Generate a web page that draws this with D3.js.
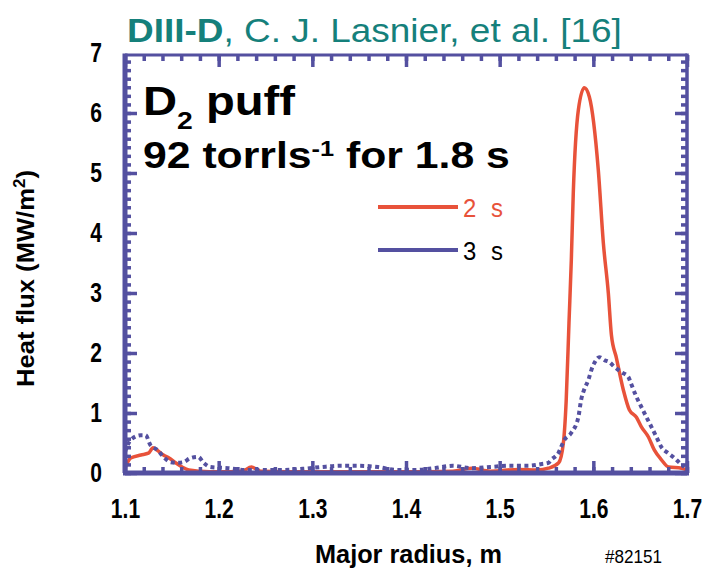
<!DOCTYPE html>
<html>
<head>
<meta charset="utf-8">
<script src="https://cdn.jsdelivr.net/npm/d3@7"></script>
<style>
  body { margin: 0; background: #fff; }
  svg { display: block; }
  text { font-family: 'Liberation Sans', Arial, sans-serif; }
</style>
</head>
<body>
<svg id="svg1" width="704" height="569"></svg>
<script>
// tick labels
var xTicks = [1.1, 1.2, 1.3, 1.4, 1.5, 1.6, 1.7];
var yTicks = [0, 1, 2, 3, 4, 5, 6, 7];

// legend
var seriesNames = ['2 s', '3 s'];

// heat flux at 2 s (MW/m^2) vs major radius (m)
var r2s = [1.100, 1.106, 1.117, 1.125, 1.130, 1.136, 1.141, 1.147, 1.154, 1.161, 1.168, 1.180, 1.200, 1.225, 1.235, 1.245,
    1.300, 1.350, 1.400, 1.450, 1.470, 1.490, 1.520, 1.540, 1.552, 1.563, 1.568, 1.571, 1.574, 1.5765, 1.5786, 1.584,
    1.5904, 1.5957, 1.6053, 1.6107, 1.616, 1.6193, 1.6246, 1.6321, 1.6385, 1.646, 1.6513, 1.6588, 1.6652, 1.6727,
    1.6802, 1.6941, 1.700];
var q2s = [0.08, 0.25, 0.30, 0.33, 0.42, 0.36, 0.30, 0.25, 0.17, 0.10, 0.05, 0.03, 0.02, 0.03, 0.10, 0.03,
    0.02, 0.02, 0.02, 0.03, 0.08, 0.03, 0.06, 0.05, 0.08, 0.17, 0.50, 1.20, 2.50, 3.55, 4.67, 6.05,
    6.42, 6.27, 5.05, 3.83, 3.00, 2.30, 1.92, 1.38, 1.05, 0.93, 0.77, 0.60, 0.38, 0.22,
    0.10, 0.08, 0.05];

// heat flux at 3 s
var r3s = [1.100, 1.106, 1.117, 1.122, 1.127, 1.135, 1.141, 1.149, 1.156, 1.162, 1.170, 1.178, 1.184, 1.191,
    1.210, 1.230, 1.250, 1.270, 1.290, 1.310, 1.330, 1.350, 1.370, 1.390, 1.410, 1.430, 1.450, 1.470, 1.490,
    1.510, 1.530, 1.545, 1.552, 1.555, 1.5626, 1.569, 1.5765, 1.584, 1.587, 1.590, 1.5947, 1.598, 1.601, 1.6064,
    1.612, 1.617, 1.6225, 1.630, 1.6374, 1.640, 1.646, 1.6513, 1.6567, 1.662, 1.6674, 1.6727, 1.680, 1.6866,
    1.692, 1.6973];
var q3s = [0.35, 0.55, 0.63, 0.63, 0.47, 0.38, 0.27, 0.18, 0.17, 0.18, 0.25, 0.27, 0.17, 0.10,
    0.08, 0.05, 0.05, 0.05, 0.07, 0.10, 0.12, 0.12, 0.10, 0.05, 0.05, 0.08, 0.12, 0.08, 0.10,
    0.12, 0.12, 0.15, 0.17, 0.22, 0.33, 0.55, 0.67, 0.93, 1.22, 1.38, 1.55, 1.72, 1.83, 1.93,
    1.88, 1.85, 1.77, 1.68, 1.60, 1.50, 1.27, 1.10, 0.93, 0.77, 0.60, 0.43, 0.33, 0.25,
    0.17, 0.10];

var blue = '#5450a0';
var red = '#e8523a';
var teal = '#15807b';

var svg = d3.select('#svg1');

var scaleX = d3.scaleLinear().domain([1.1, 1.7]).range([125, 687]);
var scaleY = d3.scaleLinear().domain([0, 7]).range([473, 53]);

// stretch a text horizontally so it spans the given width
function fit(sel, w) {
    var len = sel.node().getComputedTextLength();
    sel.attr('transform', sel.attr('transform') + ' scale(' + (w / len) + ',1)');
}

// squeeze axis labels into a condensed look
function condense(texts, s) {
    texts.each(function(){
        var t = d3.select(this);
        var x = +t.attr('x') || 0;
        t.attr('x', 0).attr('transform', 'translate(' + x + ',0) scale(' + s + ',1)');
    });
}

// title
var title = svg.append('text')
    .attr('transform', 'translate(127,42)')
    .attr('font-size', 34)
    .attr('fill', teal);
title.append('tspan').attr('font-weight', 'bold').text('DIII-D');
title.append('tspan').text(', C. J. Lasnier, et al. [16]');
fit(title, 495);

// curves
var line = d3.line()
    .x(function(d){ return scaleX(d[0]); })
    .y(function(d){ return scaleY(d[1]); })
    .curve(d3.curveMonotoneX);

svg.append('path')
    .datum(d3.zip(r2s, q2s))
    .attr('d', line)
    .attr('fill', 'none')
    .attr('stroke', red)
    .attr('stroke-width', 3.5)
    .attr('stroke-linejoin', 'round');

svg.append('path')
    .datum(d3.zip(r3s, q3s))
    .attr('d', line)
    .attr('fill', 'none')
    .attr('stroke', blue)
    .attr('stroke-width', 4)
    .attr('stroke-dasharray', '4,3.5');

// frame ticks (inward), minor + major on all four sides
var xMinor = d3.range(0, 31).map(function(i){ return 1.1 + i * 0.02; });
var yMinor = d3.range(0, 49).map(function(i){ return i / 7; });

function frameAxis(axisFn, scale, pos, vals, len) {
    var g = svg.append('g')
        .attr('transform', pos)
        .call(axisFn(scale).tickValues(vals).tickSize(-len).tickFormat(''));
    g.select('.domain').remove();
    g.selectAll('line').attr('stroke', blue).attr('stroke-width', 3.5);
}

var x0 = scaleX(1.1), x1 = scaleX(1.7), y0 = scaleY(0), y1 = scaleY(7) + 2;
frameAxis(d3.axisBottom, scaleX, 'translate(0,' + y0 + ')', xMinor, 6);
frameAxis(d3.axisBottom, scaleX, 'translate(0,' + y0 + ')', xTicks, 12);
frameAxis(d3.axisTop, scaleX, 'translate(0,' + y1 + ')', xMinor, 6);
frameAxis(d3.axisTop, scaleX, 'translate(0,' + y1 + ')', xTicks, 12);
frameAxis(d3.axisLeft, scaleY, 'translate(' + x0 + ',0)', yMinor, 6);
frameAxis(d3.axisLeft, scaleY, 'translate(' + x0 + ',0)', yTicks.slice(0, 7), 12);
frameAxis(d3.axisRight, scaleY, 'translate(' + x1 + ',0)', yMinor, 6);
frameAxis(d3.axisRight, scaleY, 'translate(' + x1 + ',0)', yTicks.slice(0, 7), 12);

// frame
svg.append('line').attr('x1', x0).attr('x2', x1).attr('y1', y1).attr('y2', y1)
    .attr('stroke', blue).attr('stroke-width', 3);
svg.append('line').attr('x1', x0 - 2).attr('x2', x1 + 2).attr('y1', y0).attr('y2', y0)
    .attr('stroke', blue).attr('stroke-width', 5);
svg.append('line').attr('x1', x0).attr('x2', x0).attr('y1', y1 - 1.5).attr('y2', y0)
    .attr('stroke', blue).attr('stroke-width', 5);
svg.append('line').attr('x1', x1).attr('x2', x1).attr('y1', y1 - 1.5).attr('y2', y0)
    .attr('stroke', blue).attr('stroke-width', 3.5);

// axis labels
var gx = svg.append('g')
    .attr('transform', 'translate(0,' + (y0 + 8) + ')')
    .call(d3.axisBottom(scaleX).tickValues(xTicks).tickSize(0).tickPadding(18).tickFormat(d3.format('.1f')));
gx.select('.domain').remove();
gx.selectAll('text').attr('font-size', 27).attr('font-weight', 'bold').attr('fill', '#000')
    .attr('font-family', null);
condense(gx.selectAll('text'), 0.78);

var gy = svg.append('g')
    .attr('transform', 'translate(' + x0 + ',0)')
    .call(d3.axisLeft(scaleY).tickValues(yTicks).tickSize(0).tickPadding(23).tickFormat(d3.format('d')));
gy.select('.domain').remove();
gy.selectAll('text').attr('font-size', 27).attr('font-weight', 'bold').attr('fill', '#000')
    .attr('font-family', null);
condense(gy.selectAll('text'), 0.78);

var xTitle = svg.append('text')
    .attr('transform', 'translate(315,563)')
    .attr('font-size', 25)
    .attr('font-weight', 'bold')
    .text('Major radius, m');
fit(xTitle, 187);

var yTitle = svg.append('text')
    .attr('transform', 'translate(34,387) rotate(-90)')
    .attr('font-size', 24)
    .attr('font-weight', 'bold');
yTitle.append('tspan').text('Heat flux (MW/m');
yTitle.append('tspan').attr('font-size', 16).attr('baseline-shift', 'super').text('2');
yTitle.append('tspan').text(')');
fit(yTitle, 217);

var tag = svg.append('text')
    .attr('transform', 'translate(605,563)')
    .attr('font-size', 18)
    .text('#82151');
fit(tag, 57);

// annotation
var ann1 = svg.append('text')
    .attr('transform', 'translate(143,115)')
    .attr('font-weight', 'bold')
    .attr('font-size', 40);
ann1.append('tspan').text('D');
ann1.append('tspan').attr('font-size', 24).attr('baseline-shift', 'sub').text('2');
ann1.append('tspan').text(' puff');
fit(ann1, 152);

var ann2 = svg.append('text')
    .attr('transform', 'translate(143,168)')
    .attr('font-weight', 'bold')
    .attr('font-size', 37);
ann2.append('tspan').text('92 torrls');
ann2.append('tspan').attr('font-size', 22).attr('baseline-shift', 'super').text('-1');
ann2.append('tspan').text(' for 1.8 s');
fit(ann2, 367);

// legend
var legendColors = [red, blue];
var legendText = [red, '#000'];
seriesNames.forEach(function(name, i){
    var ly = 207 + i * 43;
    svg.append('line')
        .attr('x1', 378).attr('x2', 458)
        .attr('y1', ly).attr('y2', ly)
        .attr('stroke', legendColors[i])
        .attr('stroke-width', 4);
    var parts = name.split(' ');
    var t = svg.append('text')
        .attr('transform', 'translate(463,' + (ly + 10) + ') scale(0.92,1)')
        .attr('font-size', 26)
        .attr('fill', legendText[i]);
    t.append('tspan').text(parts[0]);
    t.append('tspan').attr('dx', 16).text(parts[1]);
});
</script>
</body>
</html>
